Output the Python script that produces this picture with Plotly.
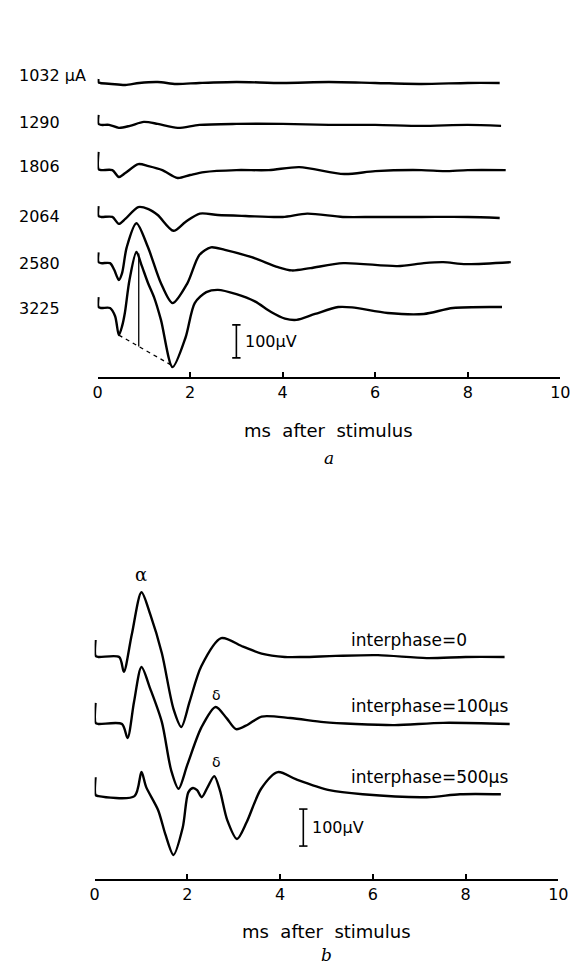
import numpy as np
import plotly.graph_objects as go

W, H = 582, 965

# ---------------- Panel a : stimulus current series (ms, µV relative to baseline)
labels_a = ["1032 µA", "1290", "1806", "2064", "2580", "3225"]
baseline_a = [891, 764, 627, 485, 345, 209]          # µV offsets on the stacked axis
label_y_a = [915, 770, 639, 485, 345, 209]

t_1032 = [0.02, 0.02, 0.06, 0.3, 0.6, 0.9, 1.3, 1.7, 2.2, 3.0, 4.0, 5.0, 6.0, 7.0, 8.0, 8.69]
v_1032 = [12, 2, 0, -3, -6, 0, 3, -3, 0, 3, 0, 3, 0, -3, 0, 0]

t_1290 = [0.02, 0.02, 0.08, 0.25, 0.46, 0.7, 1.0, 1.3, 1.73, 2.2, 3.0, 4.0, 5.0, 6.0, 7.0, 8.0, 8.72]
v_1290 = [30, 3, 0, 0, -9, -3, 9, 3, -9, 0, 3, 3, 0, 0, -3, 0, -3]

t_1806 = [0.02, 0.02, 0.08, 0.32, 0.46, 0.6, 0.88, 1.1, 1.4, 1.73, 2.0, 2.3, 3.0, 3.7, 4.36, 5.33, 6.0, 7.0, 7.5, 8.0, 8.82]
v_1806 = [55, 3, 0, 0, -21, -9, 18, 12, 0, -24, -15, -6, 0, 0, 9, -12, -3, 0, -3, 0, 0]

t_2064 = [0.02, 0.02, 0.08, 0.32, 0.46, 0.6, 0.88, 1.1, 1.3, 1.64, 1.9, 2.21, 2.6, 3.2, 4.0, 4.53, 5.3, 6.0, 7.0, 8.0, 8.69]
v_2064 = [33, 3, 0, 0, -21, -6, 30, 24, 6, -42, -15, 10, 6, 3, 0, 10, 0, 0, 0, 0, -3]

t_2580 = [0.02, 0.02, 0.08, 0.27, 0.36, 0.46, 0.53, 0.63, 0.84, 1.09, 1.37, 1.62, 1.94, 2.2, 2.45, 2.75, 3.33,
          3.9, 4.2, 4.6, 5.31, 6.48, 7.05, 7.47, 7.96, 8.93]
v_2580 = [33, 3, 0, 0, -20, -51, -30, 48, 121, 48, -61, -121, -61, 25, 48, 40, 18,
          -12, -22, -15, 0, -9, 0, 3, -3, 3]

t_3225 = [0.02, 0.02, 0.08, 0.27, 0.38, 0.46, 0.53, 0.59, 0.69, 0.84, 0.95, 1.09, 1.22, 1.37, 1.62, 1.9,
          2.1, 2.35, 2.6, 3.0, 3.4, 3.75, 4.05, 4.3, 4.7, 5.2, 5.5, 6.27, 7.05, 7.68, 8.74]
v_3225 = [33, 3, 0, 0, -25, -82, -55, -15, 85, 170, 130, 76, 33, -36, -179, -90,
          15, 48, 55, 42, 20, -12, -32, -36, -18, 3, 2, -15, -18, 0, 3]

t_a = [t_1032, t_1290, t_1806, t_2064, t_2580, t_3225]
v_a = [v_1032, v_1290, v_1806, v_2064, v_2580, v_3225]

# latency construction on the 3225 trace
dash_t = [0.46, 1.62]
dash_v = [-82, -175]
peak_t = 0.89
peak_v = 165

scale_a_t, scale_a_v0, scale_len = 3.0, 58, 100

# ---------------- Panel b : interphase series
labels_b = ["interphase=0", "interphase=100µs", "interphase=500µs"]
baseline_b = [600, 419, 224]
label_y_b = [646, 468, 276]

t_ip0 = [0.02, 0.02, 0.08, 0.53, 0.63, 0.8, 1.01, 1.2, 1.45, 1.7, 1.87, 2.05, 2.3, 2.73, 3.2, 3.6, 4.1, 4.5,
         5.2, 6.11, 7.16, 8.0, 8.84]
v_ip0 = [46, 3, 0, 0, -40, 60, 175, 115, 10, -140, -189, -120, -25, 51, 28, 9, 0, 0,
         3, 5, -3, 0, 0]

t_ip100 = [0.02, 0.02, 0.08, 0.59, 0.71, 0.85, 1.01, 1.2, 1.45, 1.65, 1.81, 2.0, 2.3, 2.61, 2.85, 3.05, 3.3, 3.6, 4.22,
           4.94, 5.63, 6.47, 7.52, 8.95]
v_ip100 = [57, 3, 0, 0, -38, 60, 154, 95, 5, -125, -175, -110, -10, 46, 15, -14, -2, 20, 16,
           5, 0, -3, 3, 0]

t_ip500 = [0.02, 0.02, 0.08, 0.86, 1.01, 1.11, 1.37, 1.53, 1.7, 1.9, 2.02, 2.12, 2.21, 2.31, 2.44, 2.58,
           2.7, 2.86, 3.07, 3.28, 3.59, 3.95, 4.35, 5.06, 5.78, 7.16, 7.88, 8.76]
v_ip500 = [51, 3, 0, 0, 65, 25, -38, -105, -159, -85, 10, 22, 16, -3, 25, 54,
           16, -65, -116, -70, 20, 65, 45, 16, 5, -3, 5, 5]

t_b = [t_ip0, t_ip100, t_ip500]
v_b = [v_ip0, v_ip100, v_ip500]

scale_b_t, scale_b_v0 = 4.5, 89

x_ticks = [0, 2, 4, 6, 8, 10]

# ---------------- geometry (pixels of the 582x965 page)
ax_a_bottom, ax_a_top, px_per_uV_a = 377, 60, 0.33
ax_b_bottom, ax_b_top, px_per_uV_b = 879, 555, 0.37

fig = go.Figure()
line_style = dict(color="black", width=2.4, shape="spline", smoothing=0.8)

for t, v, off in zip(t_a, v_a, baseline_a):
    fig.add_trace(go.Scatter(x=t, y=[off + val for val in v], mode="lines", line=line_style,
                             xaxis="x", yaxis="y", hoverinfo="skip", cliponaxis=False))

# dashed line and vertical peak marker on 3225
off3225 = baseline_a[-1]
fig.add_trace(go.Scatter(x=dash_t, y=[off3225 + d for d in dash_v], mode="lines",
                         line=dict(color="black", width=1.3, dash="4px,4px"),
                         xaxis="x", yaxis="y", hoverinfo="skip"))
foot = float(np.interp(peak_t, dash_t, dash_v))
fig.add_trace(go.Scatter(x=[peak_t, peak_t], y=[off3225 + peak_v, off3225 + foot], mode="lines",
                         line=dict(color="black", width=1.3), xaxis="x", yaxis="y", hoverinfo="skip"))

for t, v, off in zip(t_b, v_b, baseline_b):
    fig.add_trace(go.Scatter(x=t, y=[off + val for val in v], mode="lines", line=line_style,
                             xaxis="x2", yaxis="y2", hoverinfo="skip", cliponaxis=False))


def scalebar(xc, y0, length, cap, xa, ya):
    xs = [xc, xc, None, xc - cap, xc + cap, None, xc - cap, xc + cap]
    ys = [y0, y0 + length, None, y0, y0, None, y0 + length, y0 + length]
    return go.Scatter(x=xs, y=ys, mode="lines", line=dict(color="black", width=1.6),
                      xaxis=xa, yaxis=ya, hoverinfo="skip")


fig.add_trace(scalebar(scale_a_t, scale_a_v0, scale_len, 0.09, "x", "y"))
fig.add_trace(scalebar(scale_b_t, scale_b_v0, scale_len, 0.09, "x2", "y2"))

FONT = "DejaVu Sans"
ann = []
for lab, y in zip(labels_a, label_y_a):
    ann.append(dict(x=12 / W, xref="paper", y=y, yref="y", text=lab, showarrow=False,
                    xanchor="left", yanchor="middle", font=dict(family=FONT, size=16, color="black")))
ann.append(dict(x=scale_a_t + 0.14, xref="x", y=scale_a_v0 + scale_len / 2, yref="y", text="100µV",
                showarrow=False, xanchor="left", yanchor="middle",
                font=dict(family=FONT, size=16, color="black")))
for lab, y in zip(labels_b, label_y_b):
    ann.append(dict(x=5.48, xref="x2", y=y, yref="y2", text=lab, showarrow=False,
                    xanchor="left", yanchor="middle", font=dict(family=FONT, size=17, color="black")))
ann.append(dict(x=scale_b_t + 0.14, xref="x2", y=scale_b_v0 + scale_len / 2, yref="y2", text="100µV",
                showarrow=False, xanchor="left", yanchor="middle",
                font=dict(family=FONT, size=16, color="black")))
ann.append(dict(x=1.01, xref="x2", y=822, yref="y2", text="α", showarrow=False,
                font=dict(family="DejaVu Serif", size=18, color="black")))
ann.append(dict(x=2.63, xref="x2", y=497, yref="y2", text="δ", showarrow=False,
                font=dict(family=FONT, size=14, color="black")))
ann.append(dict(x=2.63, xref="x2", y=316, yref="y2", text="δ", showarrow=False,
                font=dict(family=FONT, size=14, color="black")))
# axis titles and panel letters
ann.append(dict(x=5, xref="x", y=1 - 430 / H, yref="paper", text="ms  after  stimulus", showarrow=False,
                yanchor="middle", font=dict(family=FONT, size=18, color="black")))
ann.append(dict(x=5, xref="x", y=1 - 458 / H, yref="paper", text="<i>a</i>", showarrow=False,
                yanchor="middle", font=dict(family="DejaVu Serif", size=17, color="black")))
ann.append(dict(x=5, xref="x2", y=1 - 931 / H, yref="paper", text="ms  after  stimulus", showarrow=False,
                yanchor="middle", font=dict(family=FONT, size=18, color="black")))
ann.append(dict(x=5, xref="x2", y=1 - 955 / H, yref="paper", text="<i>b</i>", showarrow=False,
                yanchor="middle", font=dict(family="DejaVu Serif", size=17, color="black")))

xcommon = dict(range=[0, 10], tickvals=x_ticks, ticktext=[str(v) for v in x_ticks], ticks="inside",
               ticklen=5, tickwidth=1.5, tickcolor="black", showline=True, linecolor="black",
               linewidth=1.6, showgrid=False, zeroline=False,
               tickfont=dict(family=FONT, size=16, color="black"))
ycommon = dict(visible=False, showgrid=False, zeroline=False)

fig.update_layout(
    width=W, height=H, margin=dict(l=0, r=0, t=0, b=0),
    paper_bgcolor="white", plot_bgcolor="white", showlegend=False,
    xaxis=dict(domain=[95 / W, 570 / W], anchor="y", **xcommon),
    yaxis=dict(domain=[1 - ax_a_bottom / H, 1 - ax_a_top / H],
               range=[0, (ax_a_bottom - ax_a_top) / px_per_uV_a], anchor="x", **ycommon),
    xaxis2=dict(domain=[92 / W, 568 / W], anchor="y2", **xcommon),
    yaxis2=dict(domain=[1 - ax_b_bottom / H, 1 - ax_b_top / H],
                range=[0, (ax_b_bottom - ax_b_top) / px_per_uV_b], anchor="x2", **ycommon),
    annotations=ann,
)

fig.write_html("out.html")
